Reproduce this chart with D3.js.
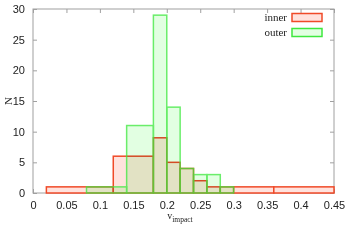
<!DOCTYPE html>
<html>
<head>
<meta charset="utf-8">
<script src="https://cdn.jsdelivr.net/npm/d3@7"></script>
<style>
  body { margin: 0; background: #fff; }
  svg { font-family: "Liberation Serif", "DejaVu Serif", serif; }
  .axis path { display: none; }
  .axis line { stroke: #a0a0a0; }
  .axis text { fill: #222; font-size: 11px; }
</style>
</head>
<body>
<script>
// histogram bins
var innerEdges  = [0.02, 0.12, 0.18, 0.20, 0.22, 0.24, 0.26, 0.28, 0.30, 0.36, 0.45];
var innerCounts = [1, 6, 9, 5, 4, 2, 1, 1, 1, 1];
var outerEdges  = [0.08, 0.14, 0.18, 0.20, 0.22, 0.24, 0.26, 0.28, 0.30];
var outerCounts = [1, 11, 29, 14, 4, 3, 3, 1];
var xTicks = [0, 0.05, 0.1, 0.15, 0.2, 0.25, 0.3, 0.35, 0.4, 0.45];
var yTicks = [0, 5, 10, 15, 20, 25, 30];
var seriesNames = ['inner', 'outer'];

var W = 349, H = 244;
var margin = {top: 9, right: 15, bottom: 51, left: 33},
    width = W - margin.left - margin.right,
    height = H - margin.top - margin.bottom;

var xScale = d3.scaleLinear().domain([0, 0.45]).range([0, width]);
var yScale = d3.scaleLinear().domain([0, 30]).range([height, 0]);

var styles = {
  inner: {stroke: '#f04a28', fill: '#ffe2dd'},
  outer: {stroke: '#3ee83e', fill: '#e2ffe2'}
};

function toBins(edges, counts) {
  return counts.map(function(c, i) { return {x0: edges[i], x1: edges[i + 1], n: c}; });
}

var svg = d3.select('body').append('svg')
    .attr('width', W)
    .attr('height', H)
  .append('g')
    .attr('transform', 'translate(' + margin.left + ',' + margin.top + ')');

// frame
svg.append('rect')
    .attr('width', width).attr('height', height)
    .attr('fill', 'none').attr('stroke', '#a0a0a0');

svg.append('g').attr('class', 'axis')
    .attr('transform', 'translate(0,' + height + ')')
    .call(d3.axisBottom(xScale).tickValues(xTicks).tickSize(-4).tickPadding(8)
      .tickFormat(function(d) { return d3.format('~g')(d); }));
svg.append('g').attr('class', 'axis')
    .call(d3.axisTop(xScale).tickValues(xTicks).tickSize(-4).tickFormat(''));
svg.append('g').attr('class', 'axis')
    .call(d3.axisLeft(yScale).tickValues(yTicks).tickSize(-4).tickPadding(8));
svg.append('g').attr('class', 'axis')
    .attr('transform', 'translate(' + width + ',0)')
    .call(d3.axisRight(yScale).tickValues(yTicks).tickSize(-4).tickFormat(''));

function bars(sel, bins) {
  return sel.selectAll('rect').data(bins).enter().append('rect')
      .attr('x', function(d) { return xScale(d.x0); })
      .attr('y', function(d) { return yScale(d.n); })
      .attr('width', function(d) { return xScale(d.x1) - xScale(d.x0); })
      .attr('height', function(d) { return yScale(0) - yScale(d.n); });
}

var innerBins = toBins(innerEdges, innerCounts),
    outerBins = toBins(outerEdges, outerCounts);

bars(svg.append('g'), innerBins)
    .attr('fill', styles.inner.fill)
    .attr('stroke', styles.inner.stroke)
    .attr('stroke-width', 1.5);
bars(svg.append('g').style('mix-blend-mode', 'multiply'), outerBins)
    .attr('fill', styles.outer.fill)
    .attr('stroke', 'none');
bars(svg.append('g').attr('opacity', 0.75), outerBins)
    .attr('fill', 'none')
    .attr('stroke', styles.outer.stroke)
    .attr('stroke-width', 1.5);

// legend
var legend = svg.selectAll('.legend').data(seriesNames).enter().append('g')
    .attr('class', 'legend')
    .attr('transform', function(d, i) { return 'translate(0,' + (i * 15) + ')'; });
legend.append('text')
    .attr('x', 254).attr('y', 12)
    .attr('text-anchor', 'end')
    .style('font-size', '11px').attr('fill', '#222')
    .text(function(d) { return d; });
legend.append('rect')
    .attr('x', 259).attr('y', 4.5)
    .attr('width', 30).attr('height', 8)
    .attr('fill', function(d) { return styles[d].fill; })
    .attr('stroke', function(d) { return styles[d].stroke; })
    .attr('stroke-width', 1.5);

// axis labels
svg.append('text')
    .attr('transform', 'translate(' + (12 - margin.left) + ',' + (height / 2) + ') rotate(-90)')
    .attr('text-anchor', 'middle')
    .style('font-size', '11px').attr('fill', '#222')
    .text('N');
var xl = svg.append('text')
    .attr('x', 147).attr('y', height + 26)
    .attr('text-anchor', 'middle')
    .style('font-size', '10px').attr('fill', '#222');
xl.append('tspan').text('v');
xl.append('tspan').attr('dy', 2.5).style('font-size', '7.5px').text('impact');
</script>
</body>
</html>
